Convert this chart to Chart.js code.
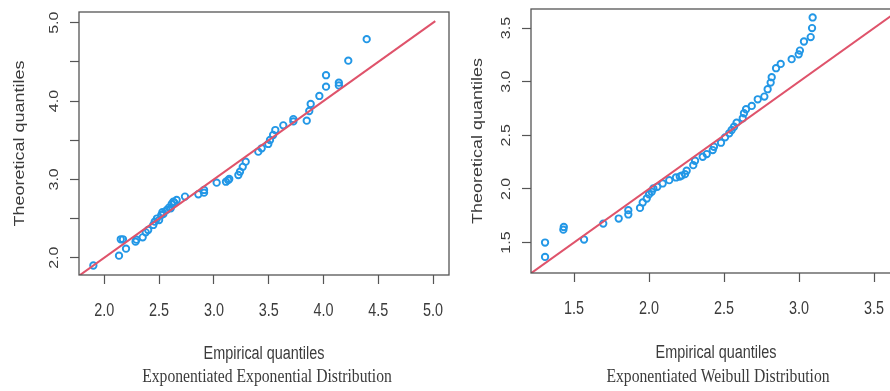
<!DOCTYPE html>
<html><head><meta charset="utf-8">
<script src="https://cdn.jsdelivr.net/npm/chart.js@4/dist/chart.umd.min.js"></script>
<style>
html,body{margin:0;padding:0;background:#fff;width:890px;height:391px;overflow:hidden;position:relative}
canvas{position:absolute;top:0}
#c1{left:0}
#c2{left:460px}
</style></head><body>
<canvas id="c1" width="460" height="391"></canvas>
<canvas id="c2" width="460" height="391"></canvas>
<script>
// ---- Data: Exponentiated Exponential (left panel) ----
const eeEmpirical = [1.90,2.134,2.15,2.17,2.198,2.285,2.293,2.35,2.378,2.40,2.447,2.46,2.48,2.50,2.52,2.53,2.54,2.57,2.59,2.606,2.615,2.63,2.64,2.66,2.736,2.858,2.91,2.91,3.025,3.11,3.13,3.14,3.223,3.238,3.263,3.29,3.405,3.436,3.496,3.512,3.54,3.56,3.633,3.725,3.725,3.847,3.87,3.883,3.962,4.023,4.023,4.14,4.14,4.226,4.394];
const eeTheoretical = [1.90,2.026,2.235,2.235,2.115,2.205,2.23,2.26,2.324,2.354,2.418,2.46,2.50,2.48,2.545,2.58,2.56,2.61,2.64,2.63,2.686,2.715,2.70,2.737,2.78,2.81,2.83,2.865,2.958,2.97,2.99,3.005,3.056,3.098,3.16,3.226,3.354,3.397,3.452,3.503,3.567,3.63,3.69,3.74,3.77,3.75,3.873,3.963,4.065,4.184,4.33,4.20,4.235,4.516,4.79];
const eeXTicks = [2.0,2.5,3.0,3.5,4.0,4.5,5.0];
const eeXLabels = ['2.0','2.5','3.0','3.5','4.0','4.5','5.0'];
const eeYTicks = [2.0,2.5,3.0,3.5,4.0,4.5,5.0];
const eeYLabels = ['2.0','','3.0','','4.0','','5.0'];
const eeLine = [1.77,5.02];

// ---- Data: Exponentiated Weibull (right panel) ----
const ewEmpirical = [1.307,1.307,1.429,1.432,1.567,1.695,1.798,1.862,1.862,1.94,1.958,1.985,2.0,2.018,2.029,2.055,2.091,2.135,2.18,2.205,2.218,2.24,2.251,2.295,2.307,2.358,2.385,2.425,2.433,2.48,2.507,2.535,2.551,2.567,2.584,2.625,2.633,2.647,2.685,2.725,2.769,2.791,2.811,2.818,2.847,2.878,2.951,2.998,3.006,3.033,3.078,3.087,3.091];
const ewTheoretical = [1.50,1.366,1.62,1.645,1.528,1.677,1.724,1.762,1.802,1.823,1.874,1.911,1.949,1.973,2.004,2.02,2.051,2.082,2.107,2.115,2.125,2.138,2.17,2.222,2.263,2.30,2.325,2.362,2.393,2.431,2.481,2.519,2.55,2.58,2.618,2.659,2.706,2.743,2.774,2.836,2.861,2.93,2.992,3.042,3.126,3.166,3.21,3.255,3.29,3.375,3.416,3.50,3.599];
const ewXTicks = [1.5,2.0,2.5,3.0,3.5];
const ewXLabels = ['1.5','2.0','2.5','3.0','3.5'];
const ewYTicks = [1.5,2.0,2.5,3.0,3.5];
const ewYLabels = ['1.5','2.0','2.5','3.0','3.5'];
const ewLine = [1.21,3.7];

const xTitle = 'Empirical quantiles';
const yTitle = 'Theoretical quantiles';
const eeTitle = 'Exponentiated Exponential Distribution';
const ewTitle = 'Exponentiated Weibull Distribution';

const H = 391, W = 460;
const TEXT = '#3b3b3b';

function drawText(ctx, text, x, y, font, sx, rotated, align, baseline) {
  ctx.save();
  ctx.translate(x, y);
  if (rotated) { ctx.rotate(-Math.PI/2); ctx.scale(1, sx); }
  else ctx.scale(sx, 1);
  ctx.font = font;
  ctx.fillStyle = TEXT;
  ctx.textAlign = align;
  ctx.textBaseline = baseline;
  ctx.fillText(text, 0, 0);
  ctx.restore();
}

const textPlugin = {
  id: 'rtext',
  afterDraw(chart, args, o) {
    const ctx = chart.ctx, a = chart.chartArea;
    const xs = chart.scales.x, ys = chart.scales.y;
    ctx.save();
    ctx.strokeStyle = '#555';
    ctx.lineWidth = 1.3;
    ctx.strokeRect(a.left, a.top, a.right - a.left, a.bottom - a.top);
    ctx.restore();
    const cx = (a.left + a.right) / 2;
    o.xTicks.forEach((v, i) => {
      drawText(ctx, o.xLabels[i], xs.getPixelForValue(v), o.xTickBase, '18px "Liberation Sans", Arial, sans-serif', 0.8, false, 'center', 'alphabetic');
    });
    o.yTicks.forEach((v, i) => {
      if (o.yLabels[i]) drawText(ctx, o.yLabels[i], o.yTickX, ys.getPixelForValue(v), '16px "Liberation Sans", Arial, sans-serif', 0.85, true, 'center', 'middle');
    });
    drawText(ctx, xTitle, cx, o.xTitleBase, '18px "Liberation Sans", Arial, sans-serif', 0.8, false, 'center', 'alphabetic');
    drawText(ctx, o.title, cx + o.titleShift, o.titleBase, '18px "Liberation Serif", "Times New Roman", serif', 0.87, false, 'center', 'alphabetic');
    drawText(ctx, yTitle, o.yTitleX, (a.top + a.bottom) / 2, '18px "Liberation Sans", Arial, sans-serif', 0.85, true, 'center', 'middle');
  }
};

function makePanel(id, c) {
  const pts = c.ex.map((v, i) => ({x: v, y: c.ey[i]}));
  return new Chart(document.getElementById(id), {
    type: 'scatter',
    data: { datasets: [
      { type: 'line', data: [{x: c.line[0], y: c.line[0]}, {x: c.line[1], y: c.line[1]}],
        borderColor: '#DF536B', borderWidth: 2, pointRadius: 0, fill: false, order: 0 },
      { data: pts, pointStyle: 'circle', pointRadius: 3.2, pointBorderWidth: 1.9,
        pointBorderColor: '#2297E6', pointBackgroundColor: 'rgba(0,0,0,0)',
        borderColor: '#2297E6', backgroundColor: 'rgba(0,0,0,0)', showLine: false, order: 1 }
    ]},
    options: {
      responsive: false, animation: false, devicePixelRatio: 1,
      layout: { padding: { top: c.area.top, right: W - c.area.right, left: 0, bottom: 0 } },
      plugins: {
        legend: { display: false }, tooltip: { enabled: false }, title: { display: false },
        rtext: c.text
      },
      scales: {
        x: {
          type: 'linear', position: 'bottom', min: c.xr[0], max: c.xr[1],
          afterFit: s => { s.height = H - c.area.bottom; },
          afterBuildTicks: s => { s.ticks = c.text.xTicks.map(v => ({value: v})); },
          ticks: { display: false },
          grid: { drawOnChartArea: false, drawTicks: true, tickLength: 9, tickColor: '#555', tickWidth: 1.2 },
          border: { display: false }
        },
        y: {
          type: 'linear', position: 'left', min: c.yr[0], max: c.yr[1],
          afterFit: s => { s.width = c.area.left; },
          afterBuildTicks: s => { s.ticks = c.text.yTicks.map(v => ({value: v})); },
          ticks: { display: false },
          grid: { drawOnChartArea: false, drawTicks: true, tickLength: 9, tickColor: '#555', tickWidth: 1.2 },
          border: { display: false }
        }
      }
    },
    plugins: [textPlugin]
  });
}

makePanel('c1', {
  ex: eeEmpirical, ey: eeTheoretical, line: eeLine,
  area: { left: 79, top: 12, right: 449, bottom: 275 },
  xr: [1.769, 5.145], yr: [1.779, 5.137],
  text: { xTicks: eeXTicks, xLabels: eeXLabels, yTicks: eeYTicks, yLabels: eeYLabels,
          xTickBase: 316, xTitleBase: 359, titleBase: 382, titleShift: 3, yTickX: 54, yTitleX: 20, title: eeTitle }
});
makePanel('c2', {
  ex: ewEmpirical, ey: ewTheoretical, line: ewLine,
  area: { left: 71, top: 9, right: 441, bottom: 273 },
  xr: [1.2133, 3.68], yr: [1.216, 3.678],
  text: { xTicks: ewXTicks, xLabels: ewXLabels, yTicks: ewYTicks, yLabels: ewYLabels,
          xTickBase: 314, xTitleBase: 358, titleBase: 382, titleShift: 2, yTickX: 46, yTitleX: 18, title: ewTitle }
});
</script>
</body></html>
